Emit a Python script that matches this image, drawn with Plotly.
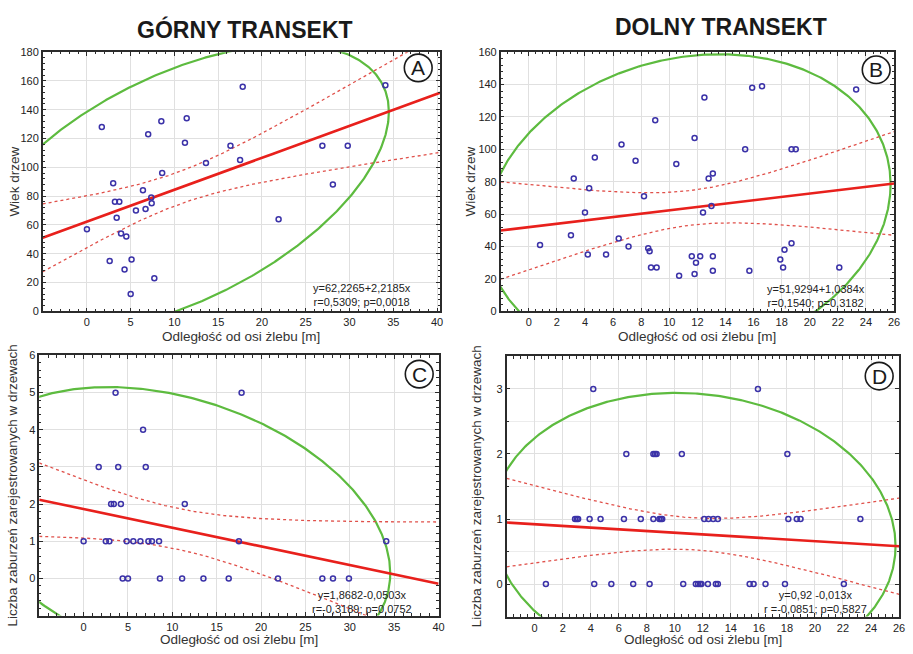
import numpy as np
import plotly.graph_objects as go

# ---------------- data ----------------
a_x = [0, 1.7, 2.6, 3.0, 3.2, 3.7, 3.4, 3.9, 4.5, 4.3, 5.1, 5.0, 5.6, 6.4, 6.7, 7.0, 7.35, 7.4, 7.7,
       8.5, 8.6, 11.2, 11.4, 13.6, 16.4, 17.5, 17.8, 21.9, 26.9, 28.1, 29.8, 34.1]
a_y = [57, 128, 35, 89, 76, 76, 65, 54, 52, 29, 36, 12, 70, 84, 71, 123, 79, 75, 23,
       132, 96, 117, 134, 103, 115, 105, 156, 64, 115, 88, 115, 157]

b_x = [0.8, 3.0, 3.2, 4.0, 4.2, 4.3, 4.7, 5.5, 6.4, 6.6, 7.1, 7.6, 8.2, 8.5, 8.6, 8.7, 9.0, 9.1,
       10.5, 10.7, 11.6, 11.8, 11.8, 11.9, 12.2, 12.4, 12.5, 12.8, 13.0, 13.1, 13.1, 13.1,
       15.4, 15.7, 15.9, 16.6, 17.9, 18.1, 18.2, 18.7, 18.7, 19.0, 22.1, 23.3]
b_y = [41, 47, 82, 61, 35, 76, 95, 35, 45, 103, 40, 93, 71, 39, 37, 27, 118, 27,
       91, 22, 34, 107, 23, 30, 34, 61, 132, 82, 65, 34, 85, 25,
       100, 25, 138, 139, 32, 27, 38, 42, 100, 100, 27, 137]

c_x = [0, 1.7, 2.5, 2.9, 3.1, 3.4, 3.6, 3.9, 4.2, 4.4, 4.85, 5.0, 5.6, 6.4, 6.7, 7.0, 7.3, 7.7,
       8.5, 8.6, 11.1, 11.4, 13.5, 16.35, 17.5, 17.8, 21.9, 26.9, 28.1, 29.9, 34.1]
c_y = [1, 3, 1, 1, 2, 2, 5, 3, 2, 0, 1, 0, 1, 1, 4, 3, 1, 1,
       1, 0, 0, 2, 0, 0, 1, 5, 0, 0, 0, 0, 1]

d_x = [4.18, 15.93,
       6.54, 8.47, 8.59, 8.7, 10.5, 18.03,
       2.88, 3.0, 3.1, 3.92, 4.7, 6.37, 7.57, 8.47, 8.9, 9.0, 9.1, 12.1, 12.4, 12.74, 13.07,
       18.1, 18.7, 18.97, 23.24,
       0.8, 4.25, 5.47, 7.03, 8.2, 10.6, 11.5, 11.66, 11.8, 11.9, 12.36, 12.93, 13.07,
       15.34, 15.62, 16.47, 17.86, 22.06]
d_y = [3, 3,
       2, 2, 2, 2, 2, 2,
       1, 1, 1, 1, 1, 1, 1, 1, 1, 1, 1, 1, 1, 1, 1,
       1, 1, 1, 1,
       0, 0, 0, 0, 0, 0, 0, 0, 0, 0, 0, 0, 0,
       0, 0, 0, 0, 0]

# regression: intercept, slope
reg_a = (62.2265, 2.2185)
reg_b = (51.9294, 1.0384)
reg_c = (1.8682, -0.0503)
reg_d = (0.92, -0.013)

# confidence band: centre x, half-width at centre, slope-of-spread
band_a = (10.45, 11.3, 1.333)
band_b = (11.5, 10.7, 2.08)
band_c = (10.45, 0.55, 0.0531)
band_d = (11.33, 0.245, 0.0476)

# ellipse: cx, cy, x-half-extent, y-half-extent, correlation
ell_a = (10.45, 85.4, 24.05, 100.0, 0.5309)
ell_b = (11.35, 63.7, 14.4, 95.0, 0.1540)
ell_c = (10.45, 1.35, 24.1, 3.8, -0.3189)
ell_d = (11.35, 0.77, 14.4, 2.17, -0.0851)

stats_a = "y=62,2265+2,2185x<br>r=0,5309; p=0,0018"
stats_b = "y=51,9294+1,0384x<br>r=0,1540; p=0,3182"
stats_c = "y=1,8682-0,0503x<br>r=-0,3189; p=0,0752"
stats_d = "y=0,92 -0,013x<br>r =-0,0851; p=0,5827"

xlab = "Odległość od osi żlebu [m]"
ylab_top = "Wiek drzew"
ylab_bot = "Liczba zaburzeń zarejestrowanych w drzewach"

# ---------------- layout geometry ----------------
W, H = 913, 654
FONT = "Liberation Sans, Arial, sans-serif"

def px_dom_x(l, r):
    return [l / W, r / W]

def px_dom_y(t, b):
    return [1 - b / H, 1 - t / H]

panels = [
    dict(x=a_x, y=a_y, reg=reg_a, band=band_a, ell=ell_a, stats=stats_a, letter="A",
         xdom=px_dom_x(43, 443), ydom=px_dom_y(47, 311), xr=[-5.05, 40.35], yr=[0, 180],
         xt=list(range(0, 41, 5)), yt=list(range(0, 181, 20)), xm=1, ym=4, ymg=False,
         stat_xy=(364, 294), circ=(421, 63), ylab=ylab_top, ylab_x=15, xlab_y=337),
    dict(x=b_x, y=b_y, reg=reg_b, band=band_b, ell=ell_b, stats=stats_b, letter="B",
         xdom=px_dom_x(504, 900), ydom=px_dom_y(47, 311), xr=[-2, 26], yr=[0, 160],
         xt=list(range(0, 27, 2)), yt=list(range(0, 161, 20)), xm=0.5, ym=4, ymg=False,
         stat_xy=(821, 295), circ=(882, 65), ylab=ylab_top, ylab_x=474, xlab_y=337),
    dict(x=c_x, y=c_y, reg=reg_c, band=band_c, ell=ell_c, stats=stats_c, letter="C",
         xdom=px_dom_x(39.5, 441.5), ydom=px_dom_y(356, 621), xr=[-5, 40], yr=[-1, 6],
         xt=list(range(0, 41, 5)), yt=list(range(0, 7)), xm=1, ym=0.2, ymg=False,
         stat_xy=(364, 607), circ=(422, 375), ylab=ylab_bot, ylab_x=13, xlab_y=645),
    dict(x=d_x, y=d_y, reg=reg_d, band=band_d, ell=ell_d, stats=stats_d, letter="D",
         xdom=px_dom_x(510, 905), ydom=px_dom_y(357, 622), xr=[-2, 26], yr=[-0.5, 3.5],
         xt=list(range(0, 27, 2)), yt=[0, 1, 2, 3], xm=0.5, ym=0.1, ymg=True,
         stat_xy=(821, 607), circ=(885, 377), ylab=ylab_bot, ylab_x=480, xlab_y=645),
]

fig = go.Figure()
layout = dict(width=W, height=H, margin=dict(l=0, r=0, t=0, b=0),
              paper_bgcolor="white", plot_bgcolor="white", showlegend=False,
              font=dict(family=FONT, color="#222"))
annotations = []
shapes = []

t = np.linspace(0, 2 * np.pi, 721)

for i, p in enumerate(panels, start=1):
    xa = "x" if i == 1 else f"x{i}"
    ya = "y" if i == 1 else f"y{i}"
    xkey = "xaxis" if i == 1 else f"xaxis{i}"
    ykey = "yaxis" if i == 1 else f"yaxis{i}"

    # ellipse
    cx, cy, ea, eb, r = p["ell"]
    s = np.sqrt(1 - r * r)
    ex = cx + ea * np.cos(t)
    ey = cy + eb * (r * np.cos(t) + s * np.sin(t))
    fig.add_trace(go.Scatter(x=ex, y=ey, mode="lines", xaxis=xa, yaxis=ya,
                             line=dict(color="#5dbb3f", width=2.2), hoverinfo="skip"))

    # regression + bands
    b0, b1 = p["reg"]
    xs = np.linspace(p["xr"][0], p["xr"][1], 300)
    yhat = b0 + b1 * xs
    xc, h0, g = p["band"]
    hw = np.sqrt(h0 ** 2 + (g * (xs - xc)) ** 2)
    for sign in (1, -1):
        fig.add_trace(go.Scatter(x=xs, y=yhat + sign * hw, mode="lines", xaxis=xa, yaxis=ya,
                                 line=dict(color="#e0504a", width=1.3, dash="dot"),
                                 hoverinfo="skip"))
    fig.add_trace(go.Scatter(x=xs, y=yhat, mode="lines", xaxis=xa, yaxis=ya,
                             line=dict(color="#e8201c", width=2.6), hoverinfo="skip"))

    # points
    fig.add_trace(go.Scatter(x=p["x"], y=p["y"], mode="markers", xaxis=xa, yaxis=ya,
                             marker=dict(symbol="circle-open", size=5, color="#3b32a8",
                                         line=dict(color="#3b32a8", width=1.5)),
                             cliponaxis=False))

    common = dict(showgrid=True, gridcolor="#e0e0e0", gridwidth=1, zeroline=False,
                  showline=True, linecolor="#2b2b2b", linewidth=1.5, mirror="allticks",
                  ticks="inside", ticklen=4, tickcolor="#2b2b2b", tickwidth=1,
                  tickfont=dict(size=11, color="#222", family=FONT))
    layout[xkey] = dict(common, domain=p["xdom"], range=p["xr"], tickmode="array",
                        tickvals=p["xt"], anchor=ya,
                        minor=dict(ticks="inside", ticklen=2.5, tickcolor="#2b2b2b",
                                   dtick=p["xm"], tick0=0, showgrid=False))
    layout[ykey] = dict(common, domain=p["ydom"], range=p["yr"], tickmode="array",
                        tickvals=p["yt"], anchor=xa,
                        minor=dict(ticks="inside", ticklen=2.5, tickcolor="#2b2b2b",
                                   dtick=p["ym"], tick0=0, showgrid=False))
    if p["ymg"]:
        layout[ykey]["minor"] = dict(ticks="inside", ticklen=2.5, tickcolor="#2b2b2b",
                                     dtick=0.5, tick0=0, showgrid=True,
                                     gridcolor="#ececec", gridwidth=1)

    # stats text
    sx, sy = p["stat_xy"]
    annotations.append(dict(x=sx / W, y=1 - sy / H, xref="paper", yref="paper",
                            text=p["stats"], showarrow=False, align="center",
                            xanchor="center", yanchor="middle",
                            font=dict(size=11, color="#222", family=FONT)))
    # circled letter
    ccx, ccy = p["circ"]
    rr = 14
    shapes.append(dict(type="circle", xref="paper", yref="paper",
                       x0=(ccx - rr) / W, x1=(ccx + rr) / W,
                       y0=1 - (ccy + rr) / H, y1=1 - (ccy - rr) / H,
                       line=dict(color="#1a1a1a", width=1.6), fillcolor="white"))
    annotations.append(dict(x=ccx / W, y=1 - ccy / H, xref="paper", yref="paper",
                            text=p["letter"], showarrow=False, xanchor="center",
                            yanchor="middle", font=dict(size=21, color="#1a1a1a", family=FONT)))
    # axis titles
    annotations.append(dict(x=(p["xdom"][0] + p["xdom"][1]) / 2, y=1 - p["xlab_y"] / H,
                            xref="paper", yref="paper", text=xlab, showarrow=False,
                            xanchor="center", yanchor="middle",
                            font=dict(size=13.5, color="#333", family=FONT)))
    annotations.append(dict(x=p["ylab_x"] / W, y=(p["ydom"][0] + p["ydom"][1]) / 2,
                            xref="paper", yref="paper", text=p["ylab"], showarrow=False,
                            textangle=-90, xanchor="center", yanchor="middle",
                            font=dict(size=13.5, color="#333", family=FONT)))

annotations.append(dict(x=247 / W, y=1 - 24 / H, xref="paper", yref="paper",
                        text="<b>GÓRNY TRANSEKT</b>", showarrow=False,
                        xanchor="center", yanchor="middle",
                        font=dict(size=23, color="#1a1a1a", family=FONT)))
annotations.append(dict(x=726 / W, y=1 - 21 / H, xref="paper", yref="paper",
                        text="<b>DOLNY TRANSEKT</b>", showarrow=False,
                        xanchor="center", yanchor="middle",
                        font=dict(size=23, color="#1a1a1a", family=FONT)))

layout["annotations"] = annotations
layout["shapes"] = shapes
fig.update_layout(**layout)
fig.write_html("out.html", config={"displayModeBar": False},
               post_script="document.body.style.margin='0';")
